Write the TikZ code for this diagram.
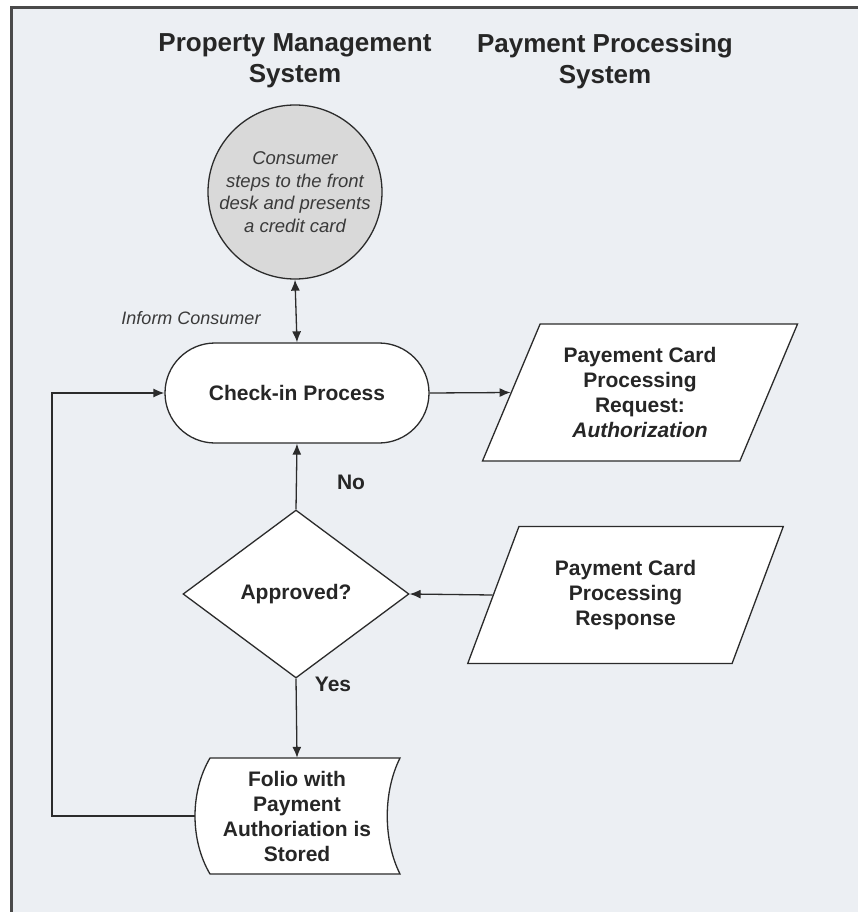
\documentclass[tikz,border=0pt]{standalone}
\usepackage{fontspec}
\setmainfont{Liberation Sans}
\usetikzlibrary{shapes.geometric,arrows.meta}
\definecolor{panel}{HTML}{ECEFF3}
\definecolor{edge}{HTML}{2B2B2B}
\definecolor{startfill}{HTML}{D9D9D9}
\definecolor{frameline}{HTML}{4A4A4A}
\definecolor{softtext}{HTML}{3A3A3A}

\begin{document}
\begin{tikzpicture}[x=1pt,y=-1pt,
  heading/.style={align=center, font=\fontsize{26}{31}\selectfont\bfseries, text=black!85},
  shapeline/.style={draw=edge, line width=1.3pt, fill=white},
  boxtext/.style={align=center, font=\fontsize{21}{25}\selectfont\bfseries, text=black!85, inner sep=0pt},
  startnode/.style={circle, draw=edge, line width=1.3pt, fill=startfill, minimum size=174pt,
    align=center, inner sep=0pt, font=\fontsize{18.5}{22.5}\selectfont\itshape, text=softtext},
  terminal/.style={shapeline, boxtext, rectangle, rounded corners=50pt, minimum width=264pt, minimum height=100pt},
  decision/.style={shapeline, boxtext, diamond, minimum width=226pt, minimum height=168pt},
  iobox/.style={shapeline, boxtext, trapezium, trapezium left angle=64, trapezium right angle=116,
    trapezium stretches=true, minimum width=316pt, minimum height=137pt},
  tip/.tip={Latex[length=11pt,width=9pt]},
  conn/.style={draw=edge, line width=1.3pt, -tip},
  twoway/.style={draw=edge, line width=1.3pt, tip-tip},
  edgelabel/.style={font=\fontsize{21}{25}\selectfont\bfseries, text=black!85},
  notelabel/.style={font=\fontsize{18}{22}\selectfont\itshape, text=softtext}
]
% page and panel
\fill[white] (0,0) rectangle (858,912);
\useasboundingbox (0,0) rectangle (858,912);
\fill[panel] (11,8) rectangle (858,912);
\draw[frameline, line width=3pt] (11,912) -- (11,8) -- (858,8);

% lane headings
\node[heading] (laneA) at (295,61) {Property Management\\System};
\node[heading] (laneB) at (605,61) {Payment Processing\\System};

% flow nodes
\node[startnode] (consumer) at (295,192) {Consumer\\steps to the front\\desk and presents\\a credit card};
\node[terminal] (checkin) at (297,393) {Check-in Process};
\node[iobox] (request) at (640,392.5) {Payement Card\\Processing\\Request:\\\textit{Authorization}};
\node[decision] (approved) at (296,594) {Approved?};
\node[iobox] (response) at (625.5,595) {Payment Card\\Processing\\Response};

% stored-data shape for the folio
\node[boxtext, minimum width=190pt, minimum height=116pt] (folio) at (297,816) {};
\coordinate (fTL) at (210,758);
\coordinate (fTR) at (400,758);
\coordinate (fBR) at (400,874);
\coordinate (fBL) at (210,874);
\coordinate (folioW) at (195,816);
\draw[shapeline] (fTL) -- (fTR) .. controls (383,792) and (383,840) .. (fBR)
  -- (fBL) .. controls (190,840) and (190,792) .. (fTL) -- cycle;
\node[boxtext] (foliotext) at (folio.center) {Folio with\\Payment\\Authoriation is\\Stored};

% connectors
\draw[twoway] (consumer.south) -- (checkin.north);
\draw[conn] (checkin.east) -- (request.left side);
\draw[conn] (approved.north) -- (checkin.south);
\draw[conn] (response.left side) -- (approved.east);
\draw[conn] (approved.south) -- (folio.north);
\draw[conn] (folioW) -- ++(-143,0) |- (checkin.west);

% labels
\node[notelabel] (inform) at (191,318) {Inform Consumer};
\node[edgelabel] (nolabel) at (351,482) {No};
\node[edgelabel] (yeslabel) at (333,684) {Yes};
\end{tikzpicture}
\end{document}
